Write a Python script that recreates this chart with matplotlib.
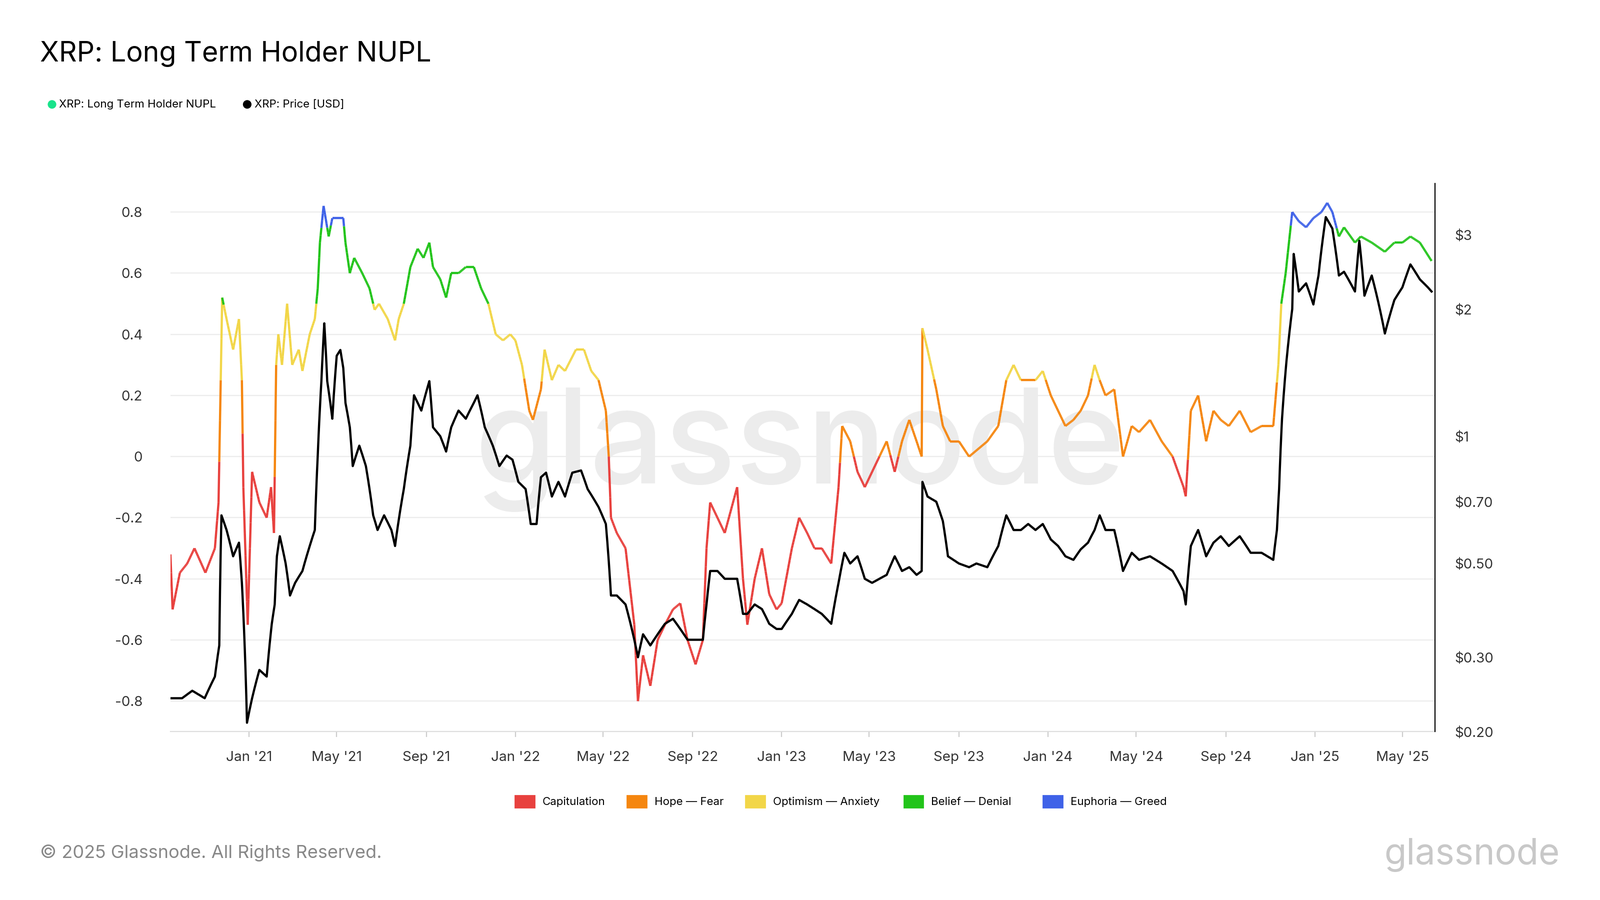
import matplotlib
matplotlib.use("Agg")
import matplotlib.pyplot as plt
import matplotlib.dates as mdates
from matplotlib.collections import LineCollection
from matplotlib.patches import Rectangle, Ellipse
import numpy as np
import pandas as pd

nupl_pts = [
("2020-09-15",-0.32),("2020-09-18",-0.50),("2020-09-28",-0.38),("2020-10-08",-0.35),("2020-10-18",-0.30),
("2020-11-02",-0.38),("2020-11-15",-0.30),("2020-11-20",-0.15),("2020-11-23",0.25),("2020-11-25",0.52),
("2020-12-01",0.45),("2020-12-10",0.35),("2020-12-18",0.45),("2020-12-22",0.25),("2020-12-24",-0.10),
("2020-12-30",-0.55),("2021-01-05",-0.05),("2021-01-15",-0.15),("2021-01-25",-0.20),("2021-01-31",-0.10),
("2021-02-04",-0.25),("2021-02-07",0.30),("2021-02-10",0.40),("2021-02-15",0.30),("2021-02-22",0.50),
("2021-03-01",0.30),("2021-03-10",0.35),("2021-03-15",0.28),("2021-03-25",0.40),("2021-04-01",0.45),
("2021-04-05",0.55),("2021-04-08",0.70),("2021-04-13",0.82),("2021-04-20",0.72),("2021-04-25",0.78),
("2021-05-01",0.78),("2021-05-10",0.78),("2021-05-13",0.70),("2021-05-19",0.60),("2021-05-25",0.65),
("2021-06-05",0.60),("2021-06-15",0.55),("2021-06-22",0.48),("2021-06-28",0.50),("2021-07-10",0.45),
("2021-07-20",0.38),("2021-07-25",0.45),("2021-08-01",0.50),("2021-08-10",0.62),("2021-08-20",0.68),
("2021-08-28",0.65),("2021-09-05",0.70),("2021-09-10",0.62),("2021-09-20",0.58),("2021-09-28",0.52),
("2021-10-05",0.60),("2021-10-15",0.60),("2021-10-25",0.62),("2021-11-05",0.62),("2021-11-15",0.55),
("2021-11-25",0.50),("2021-12-05",0.40),("2021-12-15",0.38),("2021-12-25",0.40),("2022-01-01",0.38),
("2022-01-10",0.30),("2022-01-20",0.15),("2022-01-25",0.12),("2022-02-05",0.22),("2022-02-10",0.35),
("2022-02-20",0.25),("2022-03-01",0.30),("2022-03-10",0.28),("2022-03-25",0.35),("2022-04-05",0.35),
("2022-04-15",0.28),("2022-04-25",0.25),("2022-05-05",0.15),("2022-05-09",0.00),("2022-05-12",-0.20),
("2022-05-20",-0.25),("2022-06-01",-0.30),("2022-06-13",-0.55),("2022-06-18",-0.80),("2022-06-25",-0.65),
("2022-07-05",-0.75),("2022-07-15",-0.60),("2022-07-25",-0.55),("2022-08-05",-0.50),("2022-08-15",-0.48),
("2022-08-25",-0.60),("2022-09-05",-0.68),("2022-09-15",-0.60),("2022-09-20",-0.30),("2022-09-25",-0.15),
("2022-10-05",-0.20),("2022-10-15",-0.25),("2022-11-01",-0.10),("2022-11-09",-0.40),("2022-11-15",-0.55),
("2022-11-25",-0.40),("2022-12-05",-0.30),("2022-12-15",-0.45),("2022-12-25",-0.50),("2023-01-01",-0.48),
("2023-01-15",-0.30),("2023-01-25",-0.20),("2023-02-05",-0.25),("2023-02-15",-0.30),("2023-02-25",-0.30),
("2023-03-10",-0.35),("2023-03-20",-0.10),("2023-03-25",0.10),("2023-04-05",0.05),("2023-04-15",-0.05),
("2023-04-25",-0.10),("2023-05-05",-0.05),("2023-05-15",0.00),("2023-05-25",0.05),("2023-06-05",-0.05),
("2023-06-15",0.05),("2023-06-25",0.12),("2023-07-05",0.05),("2023-07-12",0.00),("2023-07-13",0.42),
("2023-07-20",0.35),("2023-08-01",0.22),("2023-08-10",0.10),("2023-08-20",0.05),("2023-09-01",0.05),
("2023-09-15",0.00),("2023-09-25",0.02),("2023-10-10",0.05),("2023-10-25",0.10),("2023-11-05",0.25),
("2023-11-15",0.30),("2023-11-25",0.25),("2023-12-05",0.25),("2023-12-15",0.25),("2023-12-25",0.28),
("2024-01-05",0.20),("2024-01-15",0.15),("2024-01-25",0.10),("2024-02-05",0.12),("2024-02-15",0.15),
("2024-02-25",0.20),("2024-03-05",0.30),("2024-03-12",0.25),("2024-03-20",0.20),("2024-04-01",0.22),
("2024-04-13",0.00),("2024-04-25",0.10),("2024-05-05",0.08),("2024-05-20",0.12),("2024-06-05",0.05),
("2024-06-20",0.00),("2024-07-05",-0.10),("2024-07-08",-0.13),("2024-07-15",0.15),("2024-07-25",0.20),
("2024-08-05",0.05),("2024-08-15",0.15),("2024-08-25",0.12),("2024-09-05",0.10),("2024-09-20",0.15),
("2024-10-05",0.08),("2024-10-20",0.10),("2024-11-05",0.10),("2024-11-12",0.30),("2024-11-16",0.50),
("2024-11-22",0.60),("2024-12-01",0.80),("2024-12-10",0.77),("2024-12-20",0.75),("2024-12-30",0.78),
("2025-01-10",0.80),("2025-01-18",0.83),("2025-01-25",0.80),("2025-02-03",0.72),("2025-02-10",0.75),
("2025-02-25",0.70),("2025-03-05",0.72),("2025-03-20",0.70),("2025-04-07",0.67),("2025-04-20",0.70),
("2025-05-01",0.70),("2025-05-12",0.72),("2025-05-25",0.70),("2025-06-10",0.64),
]

price_pts = [
("2020-09-15",0.24),("2020-10-01",0.24),("2020-10-15",0.25),("2020-11-01",0.24),("2020-11-15",0.27),
("2020-11-21",0.32),("2020-11-24",0.65),("2020-12-01",0.60),("2020-12-10",0.52),("2020-12-18",0.56),
("2020-12-22",0.45),("2020-12-29",0.21),("2021-01-05",0.24),("2021-01-15",0.28),("2021-01-25",0.27),
("2021-02-01",0.36),("2021-02-05",0.40),("2021-02-08",0.52),("2021-02-12",0.58),("2021-02-20",0.50),
("2021-02-26",0.42),("2021-03-05",0.45),("2021-03-15",0.48),("2021-03-25",0.55),("2021-04-01",0.60),
("2021-04-05",0.90),("2021-04-10",1.35),("2021-04-14",1.85),("2021-04-18",1.35),("2021-04-25",1.10),
("2021-05-01",1.55),("2021-05-06",1.60),("2021-05-10",1.45),("2021-05-13",1.20),("2021-05-19",1.05),
("2021-05-23",0.85),("2021-06-01",0.95),("2021-06-10",0.85),("2021-06-20",0.65),("2021-06-26",0.60),
("2021-07-05",0.65),("2021-07-15",0.60),("2021-07-20",0.55),("2021-08-01",0.75),("2021-08-10",0.95),
("2021-08-15",1.25),("2021-08-25",1.15),("2021-09-05",1.35),("2021-09-10",1.05),("2021-09-20",1.00),
("2021-09-28",0.92),("2021-10-05",1.05),("2021-10-15",1.15),("2021-10-25",1.10),("2021-11-05",1.20),
("2021-11-10",1.25),("2021-11-20",1.05),("2021-12-01",0.95),("2021-12-10",0.85),("2021-12-20",0.90),
("2021-12-28",0.88),("2022-01-05",0.78),("2022-01-15",0.75),("2022-01-22",0.62),("2022-01-30",0.62),
("2022-02-05",0.80),("2022-02-12",0.82),("2022-02-20",0.72),("2022-03-01",0.78),("2022-03-10",0.72),
("2022-03-20",0.82),("2022-04-01",0.83),("2022-04-10",0.75),("2022-04-25",0.68),("2022-05-05",0.62),
("2022-05-12",0.42),("2022-05-20",0.42),("2022-06-01",0.40),("2022-06-13",0.33),("2022-06-18",0.30),
("2022-06-25",0.34),("2022-07-05",0.32),("2022-07-15",0.34),("2022-07-25",0.36),("2022-08-05",0.37),
("2022-08-15",0.35),("2022-08-25",0.33),("2022-09-05",0.33),("2022-09-15",0.33),("2022-09-20",0.40),
("2022-09-25",0.48),("2022-10-05",0.48),("2022-10-15",0.46),("2022-11-01",0.46),("2022-11-09",0.38),
("2022-11-15",0.38),("2022-11-25",0.40),("2022-12-05",0.39),("2022-12-15",0.36),("2022-12-25",0.35),
("2023-01-01",0.35),("2023-01-15",0.38),("2023-01-25",0.41),("2023-02-05",0.40),("2023-02-15",0.39),
("2023-02-25",0.38),("2023-03-10",0.36),("2023-03-20",0.45),("2023-03-28",0.53),("2023-04-05",0.50),
("2023-04-15",0.52),("2023-04-25",0.46),("2023-05-05",0.45),("2023-05-15",0.46),("2023-05-25",0.47),
("2023-06-05",0.52),("2023-06-15",0.48),("2023-06-25",0.49),("2023-07-05",0.47),("2023-07-12",0.48),
("2023-07-13",0.78),("2023-07-20",0.72),("2023-08-01",0.70),("2023-08-10",0.63),("2023-08-17",0.52),
("2023-09-01",0.50),("2023-09-15",0.49),("2023-09-25",0.50),("2023-10-10",0.49),("2023-10-25",0.55),
("2023-11-05",0.65),("2023-11-15",0.60),("2023-11-25",0.60),("2023-12-05",0.62),("2023-12-15",0.60),
("2023-12-25",0.62),("2024-01-05",0.57),("2024-01-15",0.55),("2024-01-25",0.52),("2024-02-05",0.51),
("2024-02-15",0.54),("2024-02-25",0.56),("2024-03-05",0.60),("2024-03-12",0.65),("2024-03-20",0.60),
("2024-04-01",0.60),("2024-04-13",0.48),("2024-04-25",0.53),("2024-05-05",0.51),("2024-05-20",0.52),
("2024-06-05",0.50),("2024-06-20",0.48),("2024-07-05",0.43),("2024-07-08",0.40),("2024-07-15",0.55),
("2024-07-25",0.60),("2024-08-05",0.52),("2024-08-15",0.56),("2024-08-25",0.58),("2024-09-05",0.55),
("2024-09-20",0.58),("2024-10-05",0.53),("2024-10-20",0.53),("2024-11-05",0.51),("2024-11-10",0.60),
("2024-11-13",0.75),("2024-11-17",1.10),("2024-11-23",1.50),("2024-12-01",2.00),("2024-12-03",2.70),
("2024-12-10",2.20),("2024-12-20",2.30),("2024-12-30",2.05),("2025-01-06",2.40),("2025-01-16",3.30),
("2025-01-25",3.10),("2025-02-03",2.40),("2025-02-10",2.45),("2025-02-25",2.20),("2025-03-03",2.90),
("2025-03-10",2.15),("2025-03-20",2.40),("2025-04-07",1.75),("2025-04-20",2.10),("2025-05-01",2.25),
("2025-05-12",2.55),("2025-05-25",2.35),("2025-06-05",2.25),("2025-06-10",2.20),
]

zone_names = ["Capitulation", "Hope \u2014 Fear", "Optimism \u2014 Anxiety", "Belief \u2014 Denial", "Euphoria \u2014 Greed"]
zone_colors = ["#e8413e", "#f5860f", "#f2d648", "#22c41a", "#3f62e8"]
zone_bounds = [0.0, 0.25, 0.5, 0.75]
nupl_ticks = [-0.8, -0.6, -0.4, -0.2, 0, 0.2, 0.4, 0.6, 0.8]
price_ticks = [0.2, 0.3, 0.5, 0.7, 1, 2, 3]
price_labels = ["$0.20", "$0.30", "$0.50", "$0.70", "$1", "$2", "$3"]
xtick_dates = ["2021-01-01","2021-05-01","2021-09-01","2022-01-01","2022-05-01","2022-09-01","2023-01-01",
               "2023-05-01","2023-09-01","2024-01-01","2024-05-01","2024-09-01","2025-01-01","2025-05-01"]
xtick_labels = ["Jan '21","May '21","Sep '21","Jan '22","May '22","Sep '22","Jan '23",
                "May '23","Sep '23","Jan '24","May '24","Sep '24","Jan '25","May '25"]

plt.rcParams["font.family"] = "Inter"

def daily(pts):
    s = pd.Series([v for _, v in pts], index=pd.to_datetime([d for d, _ in pts]))
    s = s.groupby(level=0).last()
    idx = pd.date_range(s.index[0], s.index[-1], freq="D")
    return s.reindex(s.index.union(idx)).interpolate("time").reindex(idx)

n = daily(nupl_pts)
p = daily(price_pts)

fig = plt.figure(figsize=(16, 9), dpi=200)
ax = fig.add_axes([0.1065, 0.187, 0.7905, 0.609])
ax2 = ax.twinx()

ax.text(0.5, 0.5, "glassnode", fontsize=95, color="#ececec", ha="center", va="center", zorder=0.5,
        fontweight="medium", transform=fig.transFigure)

x = mdates.date2num(n.index.to_pydatetime())
y = n.values
segs = np.stack([np.column_stack([x[:-1], y[:-1]]), np.column_stack([x[1:], y[1:]])], axis=1)
mid = (y[:-1] + y[1:]) / 2
cols = [zone_colors[int(np.searchsorted(zone_bounds, m))] for m in mid]
ax.add_collection(LineCollection(segs, colors=cols, linewidths=1.6, zorder=2))

ax2.plot(p.index, p.values, color="black", lw=1.6, zorder=3)
ax2.set_yscale("log")
ax2.set_ylim(0.2, 3.96)
ax2.set_yticks(price_ticks)
ax2.set_yticklabels(price_labels)
ax2.yaxis.set_minor_locator(matplotlib.ticker.NullLocator())

ax.set_xlim(pd.Timestamp("2020-09-15"), pd.Timestamp("2025-06-15"))
ax.set_ylim(-0.9, 0.893)
ax.set_yticks(nupl_ticks)
ax.set_yticklabels(["-0.8","-0.6","-0.4","-0.2","0","0.2","0.4","0.6","0.8"])
ax.grid(axis="y", color="#ececec", lw=0.8)
ax.set_axisbelow(True)
ax.set_xticks(pd.to_datetime(xtick_dates))
ax.set_xticklabels(xtick_labels)

for a in (ax, ax2):
    for s in ["top", "left", "bottom"]:
        a.spines[s].set_visible(False)
    a.tick_params(labelsize=10, colors="#333333", length=0)
ax2.spines["right"].set_color("black")
ax.spines["right"].set_visible(False)
ax.spines["bottom"].set_visible(True)
ax.spines["bottom"].set_color("#dddddd")
ax.tick_params(axis="x", pad=10, length=4, color="#cccccc")
ax.tick_params(axis="y", pad=20)
ax2.tick_params(axis="y", pad=14)

fig.text(0.025, 0.94, "XRP: Long Term Holder NUPL", fontsize=20, va="center")
fig.patches.append(Ellipse((0.0325, 0.884), 0.0045, 0.008, color="#19e38b", transform=fig.transFigure))
fig.text(0.037, 0.884, "XRP: Long Term Holder NUPL", fontsize=8, va="center")
fig.patches.append(Ellipse((0.1545, 0.884), 0.0045, 0.008, color="black", transform=fig.transFigure))
fig.text(0.159, 0.884, "XRP: Price [USD]", fontsize=8, va="center")

lx = [0.322, 0.392, 0.466, 0.565, 0.652]
for xx, name, c in zip(lx, zone_names, zone_colors):
    fig.patches.append(Rectangle((xx, 0.103), 0.012, 0.013, color=c, transform=fig.transFigure))
    fig.text(xx + 0.017, 0.109, name, fontsize=8, va="center")

fig.text(0.025, 0.052, "\u00a9 2025 Glassnode. All Rights Reserved.", fontsize=13, color="#888888", va="center")
fig.text(0.975, 0.05, "glassnode", fontsize=26, color="#c8c8c8", va="center", ha="right")

fig.savefig("out.png", dpi=200, facecolor="white")
